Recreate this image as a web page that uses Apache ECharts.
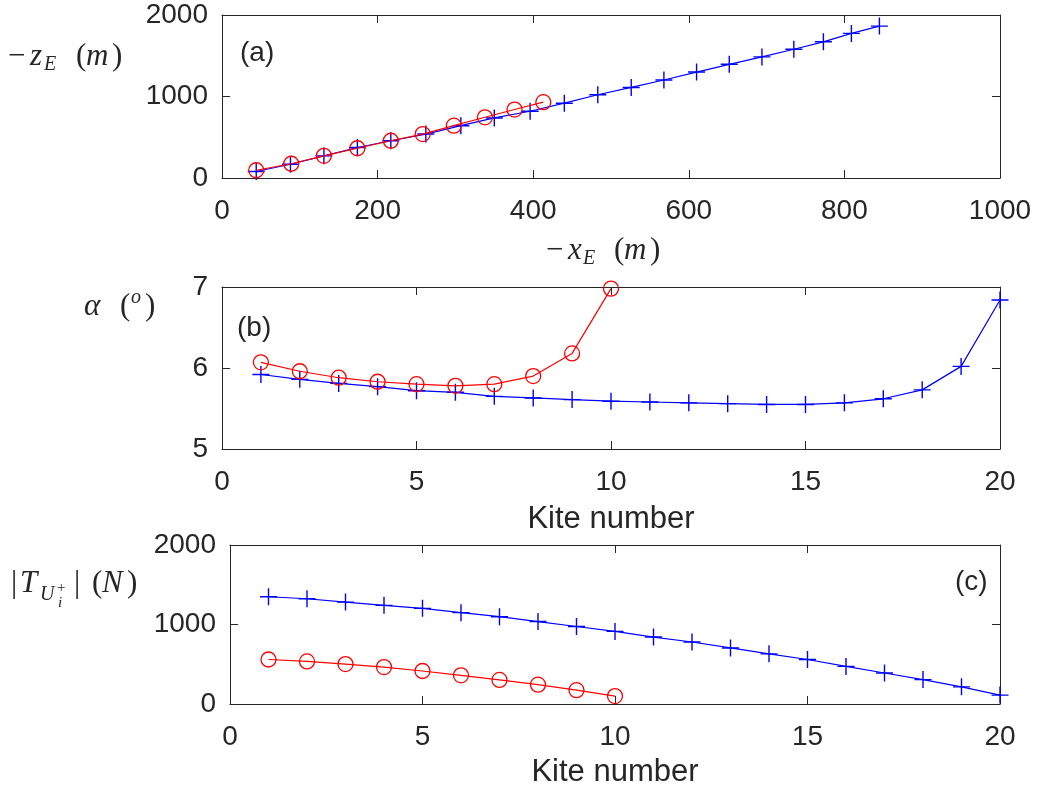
<!DOCTYPE html>
<html><head><meta charset="utf-8">
<script src="https://cdn.jsdelivr.net/npm/echarts@6/dist/echarts.min.js"></script>
<style>html,body{margin:0;padding:0;background:#fff}#c{width:1043px;height:789px}</style>
</head><body><div id="c"></div><script>
// ---- data ----
const aBlueX = [44, 88, 131, 174, 217, 262, 307, 350, 396, 440, 483, 526, 568, 610, 652, 694, 735, 773, 809, 845];
const aBlueZ = [80, 169, 272, 374, 457, 539, 642, 737, 819, 918, 1021, 1111, 1202, 1300, 1395, 1486, 1580, 1671, 1774, 1864];
const aRedX = [44, 89, 131, 174, 217, 258, 298, 338, 376, 413];
const aRedZ = [95, 175, 272, 365, 457, 539, 642, 745, 840, 930];
const kitesBlue = [1,2,3,4,5,6,7,8,9,10,11,12,13,14,15,16,17,18,19,20];
const kitesRed = [1,2,3,4,5,6,7,8,9,10];
const bBlue = [5.92, 5.86, 5.81, 5.77, 5.72, 5.70, 5.65, 5.63, 5.61, 5.59, 5.58, 5.57, 5.56, 5.55, 5.55, 5.57, 5.62, 5.73, 6.02, 6.84];
const bRed = [6.07, 5.96, 5.88, 5.83, 5.80, 5.78, 5.80, 5.90, 6.18, 6.98];
const cBlue = [1349, 1324, 1282, 1241, 1203, 1149, 1098, 1037, 975, 913, 842, 780, 705, 631, 560, 473, 390, 307, 216, 112];
const cRed = [560, 535, 502, 465, 415, 361, 303, 243, 174, 100];

const TXT = '#262626';
const SANS = 'Liberation Sans, Arial, sans-serif';
const SERIF = 'Liberation Serif, Times New Roman, serif';
const zip = (a, b) => a.map((v, i) => [v, b[i]]);

const grids = [
  {left: 222, right: 43, top: 15, height: 163},
  {left: 222, right: 43, top: 287, height: 162},
  {left: 230, right: 43, top: 545, height: 161}
];
const xr = [[0, 1000, 200], [0, 20, 5], [0, 20, 5]];
const yr = [[0, 2000, 1000], [5, 7, 1], [0, 2000, 1000]];
const xNames = ['', 'Kite number', 'Kite number'];
const xNameGaps = [50, 55, 53];

const xAxis = [], yAxis = [];
grids.forEach((g, i) => {
  const line = {show: true, onZero: false, lineStyle: {color: TXT, width: 1}};
  const tick = {show: true, inside: true, length: 8, lineStyle: {color: TXT, width: 1}};
  xAxis.push({gridIndex: i, type: 'value', min: xr[i][0], max: xr[i][1], interval: xr[i][2],
    axisLine: line, axisTick: tick, splitLine: {show: false},
    axisLabel: {color: TXT, fontFamily: SANS, fontSize: 28, margin: 19, formatter: v => String(v)},
    name: xNames[i], nameLocation: 'middle', nameGap: xNameGaps[i],
    nameTextStyle: {color: TXT, fontFamily: SANS, fontSize: 31}});
  xAxis.push({gridIndex: i, type: 'value', position: 'top', min: xr[i][0], max: xr[i][1], interval: xr[i][2],
    axisLine: line, axisTick: tick, splitLine: {show: false}, axisLabel: {show: false}});
  yAxis.push({gridIndex: i, type: 'value', min: yr[i][0], max: yr[i][1], interval: yr[i][2],
    axisLine: line, axisTick: tick, splitLine: {show: false},
    axisLabel: {color: TXT, fontFamily: SANS, fontSize: 28, margin: 14, formatter: v => String(v)}});
  yAxis.push({gridIndex: i, type: 'value', position: 'right', min: yr[i][0], max: yr[i][1], interval: yr[i][2],
    axisLine: line, axisTick: tick, splitLine: {show: false}, axisLabel: {show: false}});
});

const PLUS = 'path://M8,0L8,16M0,8L16,8';
function blue(xi, yi, data) {
  return {type: 'line', xAxisIndex: xi, yAxisIndex: yi, data, symbol: PLUS, symbolSize: 17,
    showAllSymbol: true, lineStyle: {color: '#0000ff', width: 1.2},
    itemStyle: {color: 'none', borderColor: '#0000ff', borderWidth: 1.4}, z: 3, animation: false};
}
function red(xi, yi, data) {
  return {type: 'line', xAxisIndex: xi, yAxisIndex: yi, data, symbol: 'circle', symbolSize: 15,
    showAllSymbol: true, lineStyle: {color: '#ff0000', width: 1.2},
    itemStyle: {color: 'rgba(0,0,0,0)', borderColor: '#ff0000', borderWidth: 1.3}, z: 4, animation: false};
}

const series = [
  blue(0, 0, zip(aBlueX, aBlueZ)), red(0, 0, zip(aRedX, aRedZ)),
  blue(2, 2, zip(kitesBlue, bBlue)), red(2, 2, zip(kitesRed, bRed)),
  blue(4, 4, zip(kitesBlue, cBlue)), red(4, 4, zip(kitesRed, cRed))
];

function t(text, x, y, size, italic, family) {
  return {type: 'text', x, y, style: {text, fill: TXT, font: (italic ? 'italic ' : '') + size + 'px ' + (family || SERIF),
    verticalAlign: 'middle', align: 'left'}};
}
const graphic = [
  // (a) y label: -z_E (m)
  t('\u2212', 8, 57, 31), t('z', 30, 57, 31, true), t('E', 44, 65, 20, true),
  t('(', 76, 57, 31), t('m', 86, 57, 31, true), t(')', 112, 57, 31),
  // (a) x label: -x_E (m)
  t('\u2212', 546, 251, 31), t('x', 568, 251, 31, true), t('E', 583, 259, 20, true),
  t('(', 614, 251, 31), t('m', 624, 251, 31, true), t(')', 650, 251, 31),
  // (b) y label: alpha (o)
  t('\u03b1', 84, 307, 31, true), t('(', 120, 307, 31), t('o', 131, 298, 20, true), t(')', 145, 307, 31),
  // (c) y label: |T_{U_i^+}| (N)
  t('|', 11, 584, 31), t('T', 20, 584, 31, true), t('U', 40, 595, 20, true),
  t('+', 57, 588, 15), t('i', 58, 603, 15, true), t('|', 74, 584, 31),
  t('(', 92, 584, 31), t('N', 102, 584, 31, true), t(')', 127, 584, 31),
  // panel tags
  t('(a)', 240, 53, 28, false, SANS), t('(b)', 237, 328, 28, false, SANS), t('(c)', 955, 582, 28, false, SANS)
];

const chart = echarts.init(document.getElementById('c'), null, {renderer: 'canvas'});
chart.setOption({animation: false, backgroundColor: '#fff', grid: grids, xAxis, yAxis, series, graphic});
</script></body></html>
